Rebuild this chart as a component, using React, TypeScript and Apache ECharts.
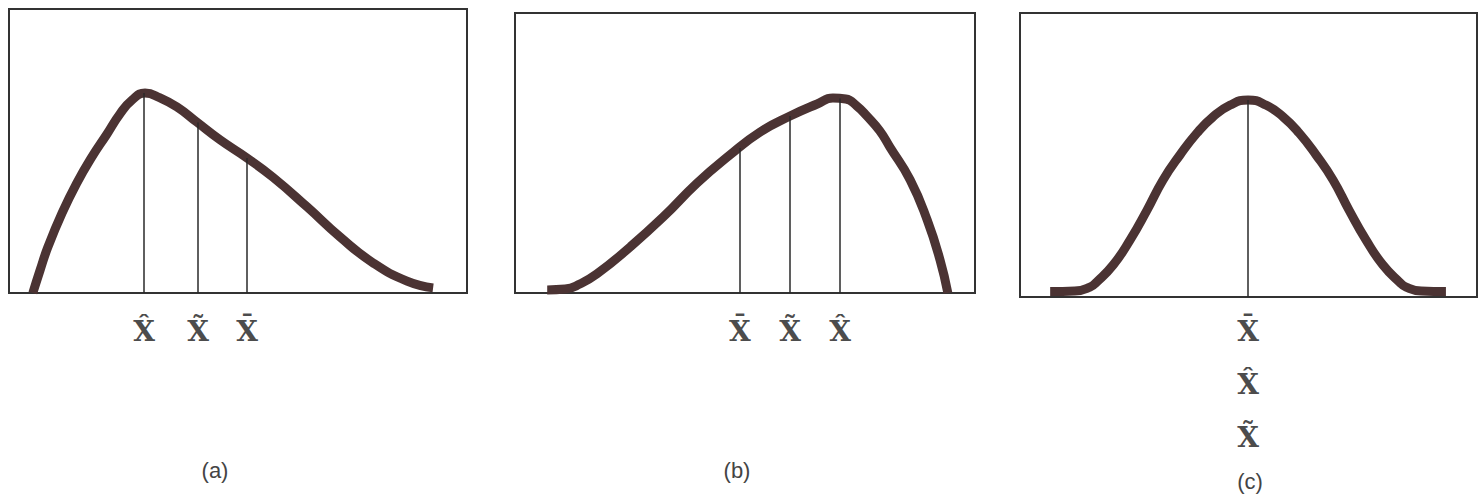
import React, { useEffect, useRef } from "react";
import * as echarts from "echarts";

// Panel (a): positively skewed curve  [x, density] in 0..100 units
const curveA: [number, number][] = [
  [5.2, 0], [6.8, 8.1], [8.5, 16.2], [11.6, 28.2], [14.8, 38.7], [18.1, 47.9],
  [21.4, 56.0], [24.2, 63.0], [26.9, 68.0], [29.7, 70.4], [33.0, 68.7], [36.7, 65.5],
  [41.0, 60.2], [46.1, 53.9], [52.0, 47.5], [57.6, 40.8], [65.1, 30.3], [72.3, 19.7],
  [79.5, 10.6], [86.9, 4.2], [92.6, 1.8],
];
const markerXA = [29.5, 41.3, 52.0];
const markerTopA = [70.4, 60.0, 47.5];
const markerLabelA = ["X\u0302", "X\u0303", "X\u0304"];

// Panel (b): negatively skewed curve
const curveB: [number, number][] = [
  [7.0, 1.1], [10.9, 1.4], [14.1, 3.2], [17.8, 6.8], [25.0, 16.4], [32.2, 27.1],
  [39.6, 39.3], [46.7, 49.3], [53.3, 57.5], [59.8, 63.2], [65.7, 67.5], [69.1, 69.6],
  [71.9, 69.3], [74.3, 66.8], [76.5, 63.2], [79.3, 57.9], [81.5, 52.1], [85.9, 40.4],
  [89.6, 26.1], [92.4, 11.8], [94.1, 0],
];
const markerXB = [48.9, 59.8, 70.7];
const markerTopB = [51.8, 63.2, 69.5];
const markerLabelB = ["X\u0304", "X\u0303", "X\u0302"];

// Panel (c): symmetric curve
const curveC: [number, number][] = [
  [6.6, 1.9], [12.0, 2.1], [15.3, 3.5], [16.8, 5.3], [20.4, 11.3], [24.1, 20.1],
  [27.8, 30.6], [31.3, 41.2], [35.0, 50.0], [38.7, 57.7], [42.2, 63.4], [46.0, 67.6],
  [49.9, 69.4], [53.8, 67.6], [57.6, 63.4], [61.1, 57.7], [64.8, 50.0], [68.5, 41.2],
  [72.0, 30.6], [75.7, 20.1], [79.4, 11.3], [83.0, 5.3], [84.5, 3.5], [87.8, 2.1],
  [93.2, 1.9],
];
const markerXC = [49.9];
const markerTopC = [69.4];
const markerLabelC = ["X\u0304", "X\u0302", "X\u0303"];

const panelNames = ["(a)", "(b)", "(c)"];

const CURVE = "#4b3333";
const INK = "#2a2a2a";

export default function App() {
  const ref = useRef<HTMLDivElement>(null);
  useEffect(() => {
    if (!ref.current) return;
    const chart = echarts.init(ref.current, null, { renderer: "svg" });
    const grids = [
      { left: 9, top: 9, width: 458, height: 284 },
      { left: 515, top: 13, width: 460, height: 280 },
      { left: 1020, top: 13, width: 457, height: 284 },
    ];
    const curves = [curveA, curveB, curveC];
    const mx = [markerXA, markerXB, markerXC];
    const mt = [markerTopA, markerTopB, markerTopC];
    const ml = [markerLabelA, markerLabelB, markerLabelC];
    const series: any[] = [];
    curves.forEach((c, i) => {
      series.push({
        type: "line",
        xAxisIndex: i,
        yAxisIndex: i,
        data: c,
        smooth: 0.5,
        symbol: "none",
        clip: false,
        z: 3,
        lineStyle: { width: 9, color: CURVE, cap: "butt", join: "round" },
        markLine: {
          silent: true,
          symbol: "none",
          label: { show: false },
          lineStyle: { color: INK, width: 1.5, type: "solid" },
          data: mx[i].map((x, k) => [{ coord: [x, 0] }, { coord: [x, mt[i][k]] }]),
        },
      });
      const labelData =
        i < 2
          ? ml[i].map((name, k) => ({ name, value: [mx[i][k], 0], row: 0 }))
          : ml[i].map((name, k) => ({ name, value: [mx[i][0], 0], row: k }));
      const base = i < 2 ? 38 : 34;
      series.push({
        type: "scatter",
        xAxisIndex: i,
        yAxisIndex: i,
        symbolSize: 0.1,
        itemStyle: { color: "rgba(0,0,0,0)" },
        z: 4,
        label: {
          show: true,
          position: "inside",
          formatter: "{b}",
          fontFamily: "DejaVu Serif",
          fontSize: 28,
          fontWeight: "bold",
          color: "#1a1a1a",
        },
        data: labelData.map((d) => ({
          name: d.name,
          value: d.value,
          label: { offset: [0, base + d.row * 53] },
        })),
      });
    });
    chart.setOption({
      animation: false,
      backgroundColor: "#ffffff",
      grid: grids.map((g) => ({
        ...g,
        show: true,
        borderColor: "#333333",
        borderWidth: 2,
        backgroundColor: "transparent",
      })),
      xAxis: grids.map((_, i) => ({
        type: "value",
        gridIndex: i,
        min: 0,
        max: 100,
        show: false,
      })),
      yAxis: grids.map((_, i) => ({
        type: "value",
        gridIndex: i,
        min: 0,
        max: 100,
        show: false,
      })),
      series,
      graphic: panelNames.map((t, i) => ({
        type: "text",
        x: [215, 737, 1250][i],
        y: [470, 470, 481][i],
        style: {
          text: t,
          textAlign: "center",
          textVerticalAlign: "middle",
          font: '22px "Liberation Sans"',
          fill: "#444444",
        },
      })),
    });
    return () => chart.dispose();
  }, []);
  return (
    <div
      ref={ref}
      style={{ position: "absolute", left: 0, top: 0, width: 1479, height: 495 }}
    />
  );
}
